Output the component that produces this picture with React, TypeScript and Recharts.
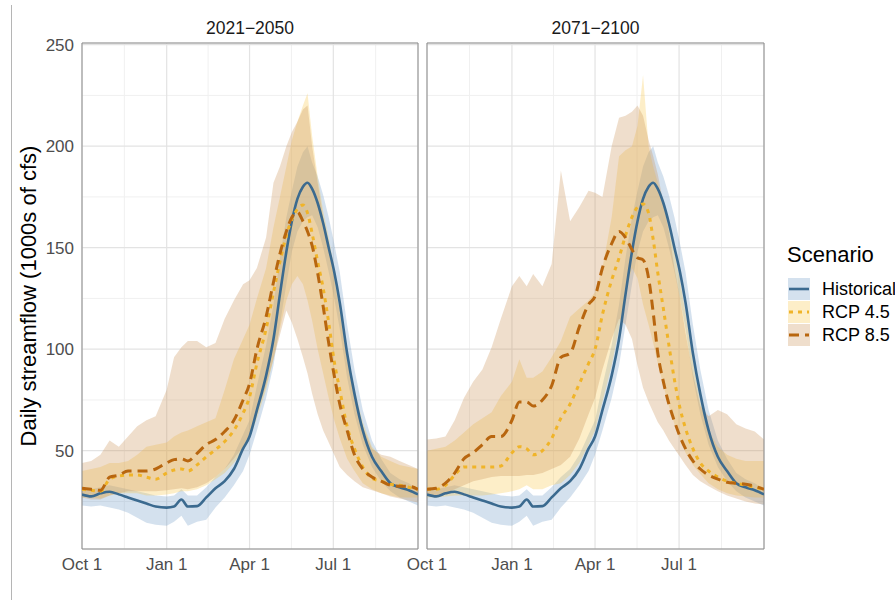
import React from "react";
import {
	ComposedChart,
	Area,
	Line,
	XAxis,
	YAxis,
	CartesianGrid,
	ReferenceArea,
} from "recharts";

// day of the water year (0 = Oct 1)
const DAYS = [0, 10, 20, 30, 40, 50, 60, 70, 80, 92, 100, 108, 115, 125, 135, 145, 155, 165, 175, 182, 190, 200, 208, 215, 222, 228, 234, 240, 245, 250, 256, 262, 268, 274, 280, 288, 296, 305, 315, 325, 335, 345, 355, 365];

// historical (same in both panels)
const HIST = [28.4, 27.5, 29, 29.8, 28.5, 27, 25.5, 24, 22.5, 22, 22.5, 26, 22.5, 22.7, 27, 31.5, 35, 41, 51, 57, 70, 87, 105, 127, 148, 163, 174, 180, 182, 179, 172, 162, 150, 138, 123, 98, 78, 60, 47, 40, 34, 32, 30.5, 28.5];
const HIST_LO = [23, 22.5, 23, 22, 21, 19.5, 17, 14.5, 13.5, 13, 15, 18, 13, 15, 16, 22, 27, 33, 40, 48, 60, 76, 92, 112, 132, 148, 158, 163, 165, 166, 160, 150, 138, 125, 110, 86, 68, 53, 42, 35, 30, 27, 25, 23];
const HIST_HI = [31, 31, 32, 33, 32, 31, 30, 29, 28, 27.5, 28, 31, 28, 28, 32, 37, 41, 48, 58, 65, 82, 102, 122, 145, 165, 178, 190, 197, 200, 192, 185, 176, 165, 152, 138, 112, 90, 70, 55, 46, 39, 36, 34, 31];

// 2021-2050
const P1_R45 = [31, 30.5, 30, 36, 37.5, 38, 38, 37, 36, 39, 40.5, 41, 40, 43, 47, 50.5, 54.5, 60, 68.5, 76.5, 93, 110, 128, 143, 156, 164, 169, 171, 167, 157, 143, 130, 113, 94, 80, 62, 51, 42, 36.5, 35, 33.5, 33, 32, 31];
const P1_R45_LO = [27, 27, 26.5, 28, 29, 29, 29, 28, 28, 28.5, 29, 30, 30, 31, 33, 36, 39, 44, 50, 56, 66, 80, 95, 110, 124, 132, 136, 132, 124, 114, 100, 88, 76, 65, 56, 46, 40, 34, 31, 29, 28, 27, 27, 27];
const P1_R45_HI = [40, 41, 42, 44, 44, 45, 48, 52, 53, 54, 57, 59, 60, 62, 64, 66, 80, 95, 105, 112, 125, 140, 160, 175, 190, 203, 212, 220, 226, 205, 185, 168, 155, 140, 124, 100, 80, 64, 52, 47, 45, 43, 42, 41];
const P1_R85 = [31.5, 31, 30.5, 37, 38, 40, 40, 40, 41, 44, 45.6, 46, 45, 48.7, 53, 55.5, 59.5, 65, 75, 83, 100, 116, 133, 147, 158, 165, 167.5, 163, 158, 151, 137.5, 121, 103, 87, 73, 60, 48, 41, 37, 35, 33, 32.5, 32.5, 31];
const P1_R85_LO = [27, 26, 26, 28, 29, 30, 30, 30, 30, 30.5, 31, 31.5, 31, 32, 34, 37, 41, 46, 52, 58, 68, 82, 95, 107, 119, 113, 105, 96, 88, 78, 68, 60, 54, 48, 42, 38, 35, 32, 30.5, 29, 27.5, 26.5, 25.5, 24.5];
const P1_R85_HI = [44, 45, 48, 55, 52, 57, 62, 65, 67, 80, 96, 101, 104, 104, 101, 103, 115, 124, 132, 134, 140, 155, 182, 190, 200, 207, 212, 218, 220, 200, 182, 165, 150, 135, 118, 95, 76, 62, 51, 48, 47, 45, 43, 41];

// 2071-2100
const P2_R45 = [31, 31, 33, 38, 42, 42, 42, 42, 42.5, 49, 52, 51, 48, 50, 56, 66, 73, 83, 93, 100, 117, 134, 145, 156, 165, 170, 171.5, 167, 154, 137.5, 120, 102, 85, 71, 61, 51, 44, 40, 37, 35, 34, 33, 32, 31];
const P2_R45_LO = [27, 27, 27.5, 28, 28, 28, 28, 28.5, 29, 30, 31, 33, 31, 31, 33, 34, 38, 44, 53, 60, 74, 92, 110, 128, 140, 135, 122, 112, 103, 93, 82, 72, 63, 56, 49, 43, 38.5, 34, 31, 29, 28, 27.5, 27, 27];
const P2_R45_HI = [50, 51, 52, 55, 59, 63, 66, 69, 77, 84, 95, 86, 86, 89, 96, 104, 116, 120, 124, 128, 140, 165, 195, 198, 200, 210, 235, 200, 190, 182, 172, 160, 148, 134, 118, 94, 74, 60, 52, 48, 46, 45, 45, 45];
const P2_R85 = [31, 31.5, 34, 39, 46, 49, 53, 57, 57, 65, 74, 74, 72, 75, 82, 96, 98, 111, 122, 126, 140, 152, 158, 155, 149, 145, 144, 135, 118, 98, 84, 73, 64.5, 57, 51, 45, 41, 38, 36, 34.5, 34, 33.5, 32.5, 31];
const P2_R85_LO = [28, 28, 29, 31, 33, 35, 36, 37, 37.5, 37.5, 37.5, 38, 38, 39, 41, 43, 47, 56, 68, 76, 90, 105, 115, 112, 105, 92, 81, 74, 69, 64, 60, 55, 51, 47, 43, 38, 35, 32.5, 30, 28, 26.5, 25, 24, 23.5];
const P2_R85_HI = [55.5, 56, 57, 65, 76, 84, 90, 101, 115, 131, 136, 131, 137, 131, 142, 188, 163, 170, 178, 177, 175, 200, 214, 215, 217, 220, 215, 203, 195, 186, 172, 158, 140, 125, 108, 88, 72, 67, 70, 68, 63, 61, 59.5, 55.5];

const X_TICKS = [0, 92, 182, 273];
const X_LABELS = ["Oct 1", "Jan 1", "Apr 1", "Jul 1"];
const X_MINOR = [46, 137, 227.5, 319];
const Y_TICKS = [50, 100, 150, 200, 250];
const Y_MINOR = [25, 75, 125, 175, 225];
const Y_DOMAIN: [number, number] = [1.6, 250.8];

const SCENARIOS = [
	{ name: "Historical", line: "#3b6a8f", fill: "#6f9cc6", dash: undefined, width: 2.6 },
	{ name: "RCP 4.5", line: "#f0b429", fill: "#f7c64a", dash: "4 5", width: 3 },
	{ name: "RCP 8.5", line: "#b8660f", fill: "#c99256", dash: "10 6", width: 3 },
];
const RIBBON_OPACITY = 0.3;

function buildRows(r45: number[], r45lo: number[], r45hi: number[], r85: number[], r85lo: number[], r85hi: number[]) {
	return DAYS.map((day, i) => ({
		day,
		hist: HIST[i],
		histBand: [HIST_LO[i], HIST_HI[i]],
		r45: r45[i],
		r45Band: [r45lo[i], r45hi[i]],
		r85: r85[i],
		r85Band: [r85lo[i], r85hi[i]],
	}));
}

const PANEL1 = buildRows(P1_R45, P1_R45_LO, P1_R45_HI, P1_R85, P1_R85_LO, P1_R85_HI);
const PANEL2 = buildRows(P2_R45, P2_R45_LO, P2_R45_HI, P2_R85, P2_R85_LO, P2_R85_HI);

const FONT = '"Liberation Sans", Arial, sans-serif';

function Panel({ data, showY, left, width, marginLeft }: { data: any[]; showY: boolean; left: number; width: number; marginLeft: number }) {
	const [hist, r45, r85] = SCENARIOS;
	return (
		<div style={{ position: "absolute", left, top: 0 }}>
			<ComposedChart
				width={width}
				height={600}
				data={data}
				margin={{ top: 43, right: 2, bottom: 21, left: marginLeft }}
			>
				<CartesianGrid
					stroke="#f0f0f0"
					strokeWidth={1}
					horizontalValues={Y_MINOR}
					verticalValues={X_MINOR}
				/>
				<CartesianGrid stroke="#e3e3e3" strokeWidth={1.2} />
				<XAxis
					dataKey="day"
					type="number"
					domain={[0, 365]}
					ticks={X_TICKS}
					interval={0}
					allowDataOverflow
					tickFormatter={(v: number) => X_LABELS[X_TICKS.indexOf(v)]}
					tick={{ fontSize: 17, fill: "#4d4d4d" }}
					tickLine={false}
					axisLine={false}
					tickSize={0}
					tickMargin={9}
					height={30}
				/>
				<YAxis
					type="number"
					domain={Y_DOMAIN}
					ticks={Y_TICKS}
					interval={0}
					allowDataOverflow
					hide={!showY}
					width={52}
					tick={{ fontSize: 17, fill: "#4d4d4d" }}
					tickLine={false}
					axisLine={false}
					tickSize={0}
					tickMargin={8}
				/>
				<Area type="linear" dataKey="histBand" stroke="none" fill={hist.fill} fillOpacity={RIBBON_OPACITY} isAnimationActive={false} activeDot={false} />
				<Area type="linear" dataKey="r45Band" stroke="none" fill={r45.fill} fillOpacity={RIBBON_OPACITY} isAnimationActive={false} activeDot={false} />
				<Area type="linear" dataKey="r85Band" stroke="none" fill={r85.fill} fillOpacity={RIBBON_OPACITY} isAnimationActive={false} activeDot={false} />
				<Line type="monotone" dataKey="hist" stroke={hist.line} strokeWidth={hist.width} dot={false} activeDot={false} isAnimationActive={false} />
				<Line type="monotone" dataKey="r45" stroke={r45.line} strokeWidth={r45.width} strokeDasharray={r45.dash} dot={false} activeDot={false} isAnimationActive={false} />
				<Line type="monotone" dataKey="r85" stroke={r85.line} strokeWidth={r85.width} strokeDasharray={r85.dash} dot={false} activeDot={false} isAnimationActive={false} />
				<ReferenceArea x1={0} x2={365} y1={Y_DOMAIN[0]} y2={Y_DOMAIN[1]} fill="none" stroke="#8c8c8c" strokeWidth={1} />
			</ComposedChart>
		</div>
	);
}

export default function App() {
	return (
		<div
			style={{
				position: "absolute",
				left: 0,
				top: 0,
				width: 895,
				height: 600,
				overflow: "hidden",
				background: "#fff",
				fontFamily: FONT,
			}}
		>
			<div style={{ position: "absolute", left: 11, top: 5, width: 1, height: 595, background: "#b5b5b5" }} />

			<div style={{ position: "absolute", left: 82, width: 336, top: 19.5, fontSize: 17.5, lineHeight: "17.5px", textAlign: "center", color: "#1a1a1a" }}>
				2021−2050
			</div>
			<div style={{ position: "absolute", left: 427, width: 337, top: 19.5, fontSize: 17.5, lineHeight: "17.5px", textAlign: "center", color: "#1a1a1a" }}>
				2071−2100
			</div>

			<div
				style={{
					position: "absolute",
					left: 29.4 - 200,
					top: 296 - 11,
					width: 400,
					height: 22,
					fontSize: 22,
					lineHeight: "22px",
					textAlign: "center",
					transform: "rotate(-90deg)",
					color: "#000",
				}}
			>
				Daily streamflow (1000s of cfs)
			</div>

			<Panel data={PANEL1} showY left={0} width={420} marginLeft={30} />
			<Panel data={PANEL2} showY={false} left={370} width={396} marginLeft={57} />

			<div style={{ position: "absolute", left: 787, top: 244, fontSize: 22, lineHeight: "22px", color: "#000", whiteSpace: "nowrap" }}>
				Scenario
			</div>
			{SCENARIOS.map((s, i) => (
				<div key={s.name} style={{ position: "absolute", left: 788, top: 278 + i * 23, height: 22, whiteSpace: "nowrap" }}>
					<svg width={22} height={22} style={{ position: "absolute", left: 0, top: 0 }}>
						<rect x={0} y={0} width={22} height={22} fill={s.fill} fillOpacity={RIBBON_OPACITY} />
						<line x1={1} y1={11} x2={21} y2={11} stroke={s.line} strokeWidth={s.width} strokeDasharray={s.dash} />
					</svg>
					<div style={{ position: "absolute", left: 34, top: 0, fontSize: 18, lineHeight: "22px", color: "#000" }}>{s.name}</div>
				</div>
			))}
		</div>
	);
}
